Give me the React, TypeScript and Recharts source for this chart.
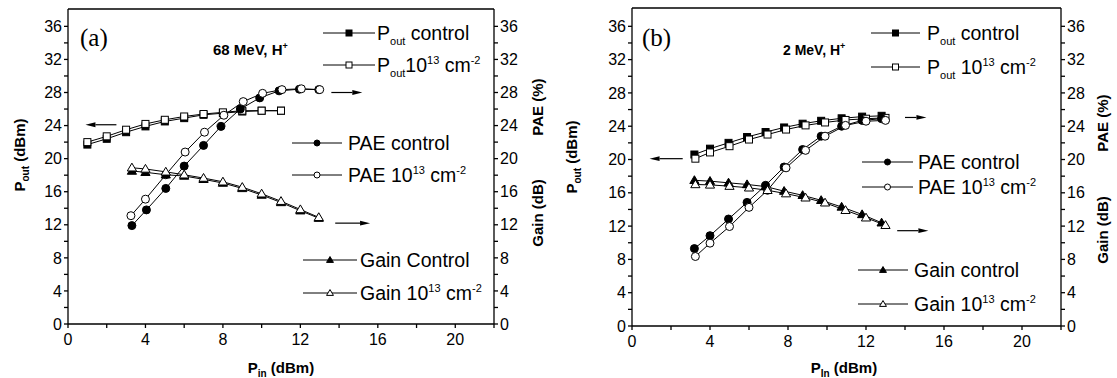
import React from 'react';
import { LineChart, Line, XAxis, YAxis, ReferenceLine } from 'recharts';

// Panel (a): 68 MeV protons
const PIN_A_POUT = [1, 2, 3, 4, 5, 6, 7, 8, 9, 10, 11];
const POUT_A_CTRL = [21.7, 22.4, 23.2, 23.9, 24.5, 24.9, 25.3, 25.5, 25.7, 25.8, 25.8];
const POUT_A_IRR = [22.0, 22.7, 23.5, 24.2, 24.7, 25.1, 25.4, 25.6, 25.8, 25.8, 25.8];
const PIN_A_PAE_CTRL = [3.3, 4.05, 5.05, 6.0, 7.0, 7.9, 8.9, 9.9, 10.9, 11.95, 12.95];
const PAE_A_CTRL = [11.9, 13.8, 16.4, 19.1, 21.6, 23.9, 26.0, 27.35, 28.2, 28.4, 28.35];
const PIN_A_PAE_IRR = [3.25, 4.0, 5.05, 6.05, 7.05, 8.05, 9.05, 10.05, 11.05, 12.05, 13.0];
const PAE_A_IRR = [13.1, 15.1, 18.05, 20.8, 23.2, 25.25, 26.9, 27.9, 28.35, 28.45, 28.35];
const PIN_A_GAIN = [3.3, 4.0, 5.05, 6.0, 7.0, 8.0, 9.0, 10.0, 11.0, 12.0, 12.95];
const GAIN_A_CTRL = [18.5, 18.35, 18.05, 17.9, 17.5, 17.05, 16.4, 15.6, 14.7, 13.7, 12.8];
const GAIN_A_IRR = [18.9, 18.75, 18.4, 18.05, 17.65, 17.2, 16.55, 15.75, 14.85, 13.85, 12.9];

// Panel (b): 2 MeV protons
const PIN_B_CTRL = [3.2, 4.0, 4.95, 5.9, 6.85, 7.8, 8.75, 9.7, 10.75, 11.8, 12.8];
const PIN_B_IRR = [3.25, 4.0, 5.0, 6.0, 6.95, 7.9, 8.9, 9.9, 10.95, 12.0, 13.0];
const POUT_B_CTRL = [20.6, 21.3, 22.0, 22.7, 23.3, 23.85, 24.3, 24.65, 24.95, 25.15, 25.25];
const POUT_B_IRR = [20.1, 20.85, 21.6, 22.4, 23.0, 23.6, 24.1, 24.45, 24.75, 24.9, 25.0];
const PAE_B_CTRL = [9.3, 10.85, 12.85, 14.85, 16.9, 19.1, 21.2, 22.8, 24.0, 24.7, 24.9];
const PAE_B_IRR = [8.35, 9.95, 11.95, 14.25, 16.3, 19.0, 21.1, 22.8, 24.1, 24.6, 24.7];
const GAIN_B_CTRL = [17.5, 17.4, 17.2, 17.0, 16.75, 16.2, 15.7, 15.1, 14.3, 13.4, 12.4];
const GAIN_B_IRR = [17.0, 16.95, 16.8, 16.6, 16.3, 15.9, 15.4, 14.8, 13.9, 13.0, 12.1];

// arrows pointing at the axis each curve belongs to: [fromX, toX, y]
const ARROWS_A = [[2.5, 0.9, 24.1], [13.6, 15.2, 28.0], [13.8, 15.6, 12.2]];
const ARROWS_B = [[2.6, 0.9, 20.1], [14.0, 15.1, 25.05], [13.6, 15.2, 11.45]];

const Y_TICKS = [0, 2, 4, 6, 8, 10, 12, 14, 16, 18, 20, 22, 24, 26, 28, 30, 32, 34, 36];
const X_TICKS = [0, 2, 4, 6, 8, 10, 12, 14, 16, 18, 20, 22];

const FONT = "'Liberation Sans', Arial, Helvetica, sans-serif";
const SERIF = "'Liberation Serif', 'Times New Roman', serif";

const pts = (xs: number[], ys: number[]) => xs.map((x, i) => ({ x, y: ys[i] }));

type Shape = 'square' | 'circle' | 'triangle';

const Mark = ({ cx, cy, shape, filled, r }: { cx: number; cy: number; shape: Shape; filled: boolean; r: number }) => {
  const fill = filled ? '#000' : '#fff';
  if (shape === 'square')
    return <rect x={cx - r} y={cy - r} width={2 * r} height={2 * r} fill={fill} stroke="#000" strokeWidth={1} />;
  if (shape === 'circle') return <circle cx={cx} cy={cy} r={r} fill={fill} stroke="#000" strokeWidth={1} />;
  return (
    <polygon
      points={`${cx},${cy - r * 1.15} ${cx - r * 1.15},${cy + r * 0.8} ${cx + r * 1.15},${cy + r * 0.8}`}
      fill={fill}
      stroke="#000"
      strokeWidth={1}
    />
  );
};

const arrowShape = (p: any) => {
  const { x1, y1, x2, y2 } = p;
  const dir = x2 > x1 ? 1 : -1;
  const bx = x2 - dir * 10;
  return (
    <g>
      <line x1={x1} y1={y1} x2={bx} y2={y2} stroke="#000" strokeWidth={1.2} />
      <polygon points={`${x2},${y2} ${bx},${y2 - 2.4} ${bx},${y2 + 2.4}`} fill="#000" />
    </g>
  );
};

const LegendRow = ({ y, x1, x2, tx, shape, filled, children }: any) => (
  <g>
    <line x1={x1} x2={x2} y1={y} y2={y} stroke="#000" strokeWidth={1} />
    <Mark cx={(x1 + x2) / 2} cy={y} shape={shape} filled={filled} r={3} />
    <text x={tx} y={y + 7} fontSize={19.5} fontFamily={FONT} fill="#000">
      {children}
    </text>
  </g>
);

const Dose = ({ lead }: { lead: string }) => (
  <>
    <tspan>{lead}</tspan>
    <tspan fontSize={11} dy={-8}>13</tspan>
    <tspan dy={8}>{' cm'}</tspan>
    <tspan fontSize={11} dy={-8}>-2</tspan>
  </>
);

const tickStyle = { fill: '#000', fontSize: 16, fontFamily: FONT };

interface Series {
  data: { x: number; y: number }[];
  shape: Shape;
  filled: boolean;
  axis: 'l' | 'r';
}

const Panel = ({ left, width, plotLeft, plotRight, top, bottom, yMax, series, arrows, children }: any) => (
  <div style={{ position: 'absolute', left, top: 0, width, height: 378 }}>
    <LineChart width={width} height={378} margin={{ top, right: 0, bottom: 0, left: 0 }}>
      <XAxis
        type="number"
        dataKey="x"
        domain={[0, 22]}
        ticks={X_TICKS}
        interval={0}
        allowDataOverflow
        height={bottom}
        stroke="#000"
        strokeWidth={1.3}
        tick={tickStyle}
        tickSize={4}
        tickMargin={6}
        tickFormatter={(v: number) => (v % 4 === 0 && v <= 20 ? String(v) : '')}
      />
      <YAxis
        yAxisId="l"
        orientation="left"
        width={plotLeft}
        domain={[0, yMax]}
        ticks={Y_TICKS}
        interval={0}
        allowDataOverflow
        stroke="#000"
        strokeWidth={1.3}
        tick={tickStyle}
        tickSize={4}
        tickMargin={2}
        tickFormatter={(v: number) => (v % 4 === 0 ? String(v) : '')}
      />
      <YAxis
        yAxisId="r"
        orientation="right"
        width={width - plotRight}
        domain={[0, yMax]}
        ticks={Y_TICKS}
        interval={0}
        allowDataOverflow
        stroke="#000"
        strokeWidth={1.3}
        tick={tickStyle}
        tickSize={4}
        tickMargin={2}
        tickFormatter={(v: number) => (v % 4 === 0 ? String(v) : '')}
      />
      <ReferenceLine yAxisId="l" y={yMax} stroke="#000" strokeWidth={1.3} />
      {series.map((s: Series, i: number) => (
        <Line
          key={i}
          yAxisId={s.axis}
          data={s.data}
          dataKey="y"
          type="linear"
          stroke="#000"
          strokeWidth={1}
          isAnimationActive={false}
          activeDot={false}
          dot={(p: any) => <Mark key={p.index} cx={p.cx} cy={p.cy} shape={s.shape} filled={s.filled} r={s.shape === 'square' ? 3.5 : 4} />}
        />
      ))}
      {arrows.map((a: number[], i: number) => (
        <ReferenceLine
          key={`ar${i}`}
          yAxisId="l"
          segment={[{ x: a[0], y: a[2] }, { x: a[1], y: a[2] }]}
          shape={arrowShape}
        />
      ))}
    </LineChart>
    <svg style={{ position: 'absolute', left: 0, top: 0, pointerEvents: 'none' }} width={width} height={378}>
      {children}
    </svg>
  </div>
);

const seriesA: Series[] = [
  { data: pts(PIN_A_POUT, POUT_A_CTRL), shape: 'square', filled: true, axis: 'l' },
  { data: pts(PIN_A_POUT, POUT_A_IRR), shape: 'square', filled: false, axis: 'l' },
  { data: pts(PIN_A_PAE_CTRL, PAE_A_CTRL), shape: 'circle', filled: true, axis: 'r' },
  { data: pts(PIN_A_PAE_IRR, PAE_A_IRR), shape: 'circle', filled: false, axis: 'r' },
  { data: pts(PIN_A_GAIN, GAIN_A_CTRL), shape: 'triangle', filled: true, axis: 'r' },
  { data: pts(PIN_A_GAIN, GAIN_A_IRR), shape: 'triangle', filled: false, axis: 'r' },
];

const seriesB: Series[] = [
  { data: pts(PIN_B_CTRL, POUT_B_CTRL), shape: 'square', filled: true, axis: 'l' },
  { data: pts(PIN_B_IRR, POUT_B_IRR), shape: 'square', filled: false, axis: 'l' },
  { data: pts(PIN_B_CTRL, PAE_B_CTRL), shape: 'circle', filled: true, axis: 'r' },
  { data: pts(PIN_B_IRR, PAE_B_IRR), shape: 'circle', filled: false, axis: 'r' },
  { data: pts(PIN_B_CTRL, GAIN_B_CTRL), shape: 'triangle', filled: true, axis: 'r' },
  { data: pts(PIN_B_IRR, GAIN_B_IRR), shape: 'triangle', filled: false, axis: 'r' },
];

const AxisTitles = ({ lx, ly, rx, paeY, gainY, bx, inText }: any) => (
  <g fontFamily={FONT} fontWeight="bold" fontSize={15} fill="#000">
    <text x={lx} y={ly} textAnchor="middle" transform={`rotate(-90 ${lx} ${ly})`}>
      P<tspan fontSize={10} dy={4}>out</tspan>
      <tspan dy={-4}>{' (dBm)'}</tspan>
    </text>
    <text x={rx} y={paeY} textAnchor="middle" transform={`rotate(-90 ${rx} ${paeY})`}>
      PAE (%)
    </text>
    <text x={rx} y={gainY} textAnchor="middle" transform={`rotate(-90 ${rx} ${gainY})`}>
      Gain (dB)
    </text>
    <text x={bx} y={373} textAnchor="middle">
      P<tspan fontSize={10} dy={4}>{inText}</tspan>
      <tspan dy={-4}>{' (dBm)'}</tspan>
    </text>
  </g>
);

export default function App() {
  return (
    <div style={{ position: 'absolute', left: 0, top: 0, width: 1117, height: 378, background: '#fff' }}>
      <Panel left={0} width={558} plotLeft={68} plotRight={494} top={9} bottom={54} yMax={38.1} series={seriesA} arrows={ARROWS_A}>
        <text x={80} y={46} fontFamily={SERIF} fontSize={25} fill="#000">(a)</text>
        <text x={213} y={55} fontFamily={FONT} fontWeight="bold" fontSize={15} fill="#000">
          68 MeV, H<tspan fontSize={9} dy={-6}>+</tspan>
        </text>
        <LegendRow y={33} x1={323} x2={375} tx={377} shape="square" filled>
          P<tspan fontSize={11} dy={5}>out</tspan>
          <tspan dy={-5}>{' control'}</tspan>
        </LegendRow>
        <LegendRow y={65} x1={323} x2={375} tx={377} shape="square" filled={false}>
          P<tspan fontSize={11} dy={5}>out</tspan>
          <tspan dy={-5}>10</tspan>
          <tspan fontSize={11} dy={-8}>13</tspan>
          <tspan dy={8}>{' cm'}</tspan>
          <tspan fontSize={11} dy={-8}>-2</tspan>
        </LegendRow>
        <LegendRow y={143} x1={292} x2={342} tx={348} shape="circle" filled>PAE control</LegendRow>
        <LegendRow y={175} x1={292} x2={342} tx={348} shape="circle" filled={false}>
          <Dose lead="PAE 10" />
        </LegendRow>
        <LegendRow y={260} x1={303} x2={357} tx={360} shape="triangle" filled>Gain Control</LegendRow>
        <LegendRow y={293} x1={303} x2={357} tx={360} shape="triangle" filled={false}>
          <Dose lead="Gain 10" />
        </LegendRow>
        <AxisTitles lx={25} ly={155} rx={543} paeY={107} gainY={213} bx={281} inText="in" />
      </Panel>
      <Panel left={558} width={559} plotLeft={74} plotRight={503} top={8} bottom={52} yMax={38.2} series={seriesB} arrows={ARROWS_B}>
        <text x={84} y={46} fontFamily={SERIF} fontSize={25} fill="#000">(b)</text>
        <text x={225} y={55} fontFamily={FONT} fontWeight="bold" fontSize={14} fill="#000">
          2 MeV, H<tspan fontSize={9} dy={-6}>+</tspan>
        </text>
        <LegendRow y={33} x1={313} x2={362} tx={369} shape="square" filled>
          P<tspan fontSize={11} dy={5}>out</tspan>
          <tspan dy={-5}>{' control'}</tspan>
        </LegendRow>
        <LegendRow y={67} x1={313} x2={362} tx={369} shape="square" filled={false}>
          P<tspan fontSize={11} dy={5}>out</tspan>
          <tspan dy={-5}>{' 10'}</tspan>
          <tspan fontSize={11} dy={-8}>13</tspan>
          <tspan dy={8}>{' cm'}</tspan>
          <tspan fontSize={11} dy={-8}>-2</tspan>
        </LegendRow>
        <LegendRow y={162} x1={304} x2={355} tx={360} shape="circle" filled>PAE control</LegendRow>
        <LegendRow y={187} x1={304} x2={355} tx={360} shape="circle" filled={false}>
          <Dose lead="PAE 10" />
        </LegendRow>
        <LegendRow y={270} x1={300} x2={350} tx={356} shape="triangle" filled>Gain control</LegendRow>
        <LegendRow y={304} x1={300} x2={350} tx={356} shape="triangle" filled={false}>
          <Dose lead="Gain 10" />
        </LegendRow>
        <AxisTitles lx={19} ly={157} rx={550} paeY={123} gainY={230} bx={286} inText="In" />
      </Panel>
    </div>
  );
}
